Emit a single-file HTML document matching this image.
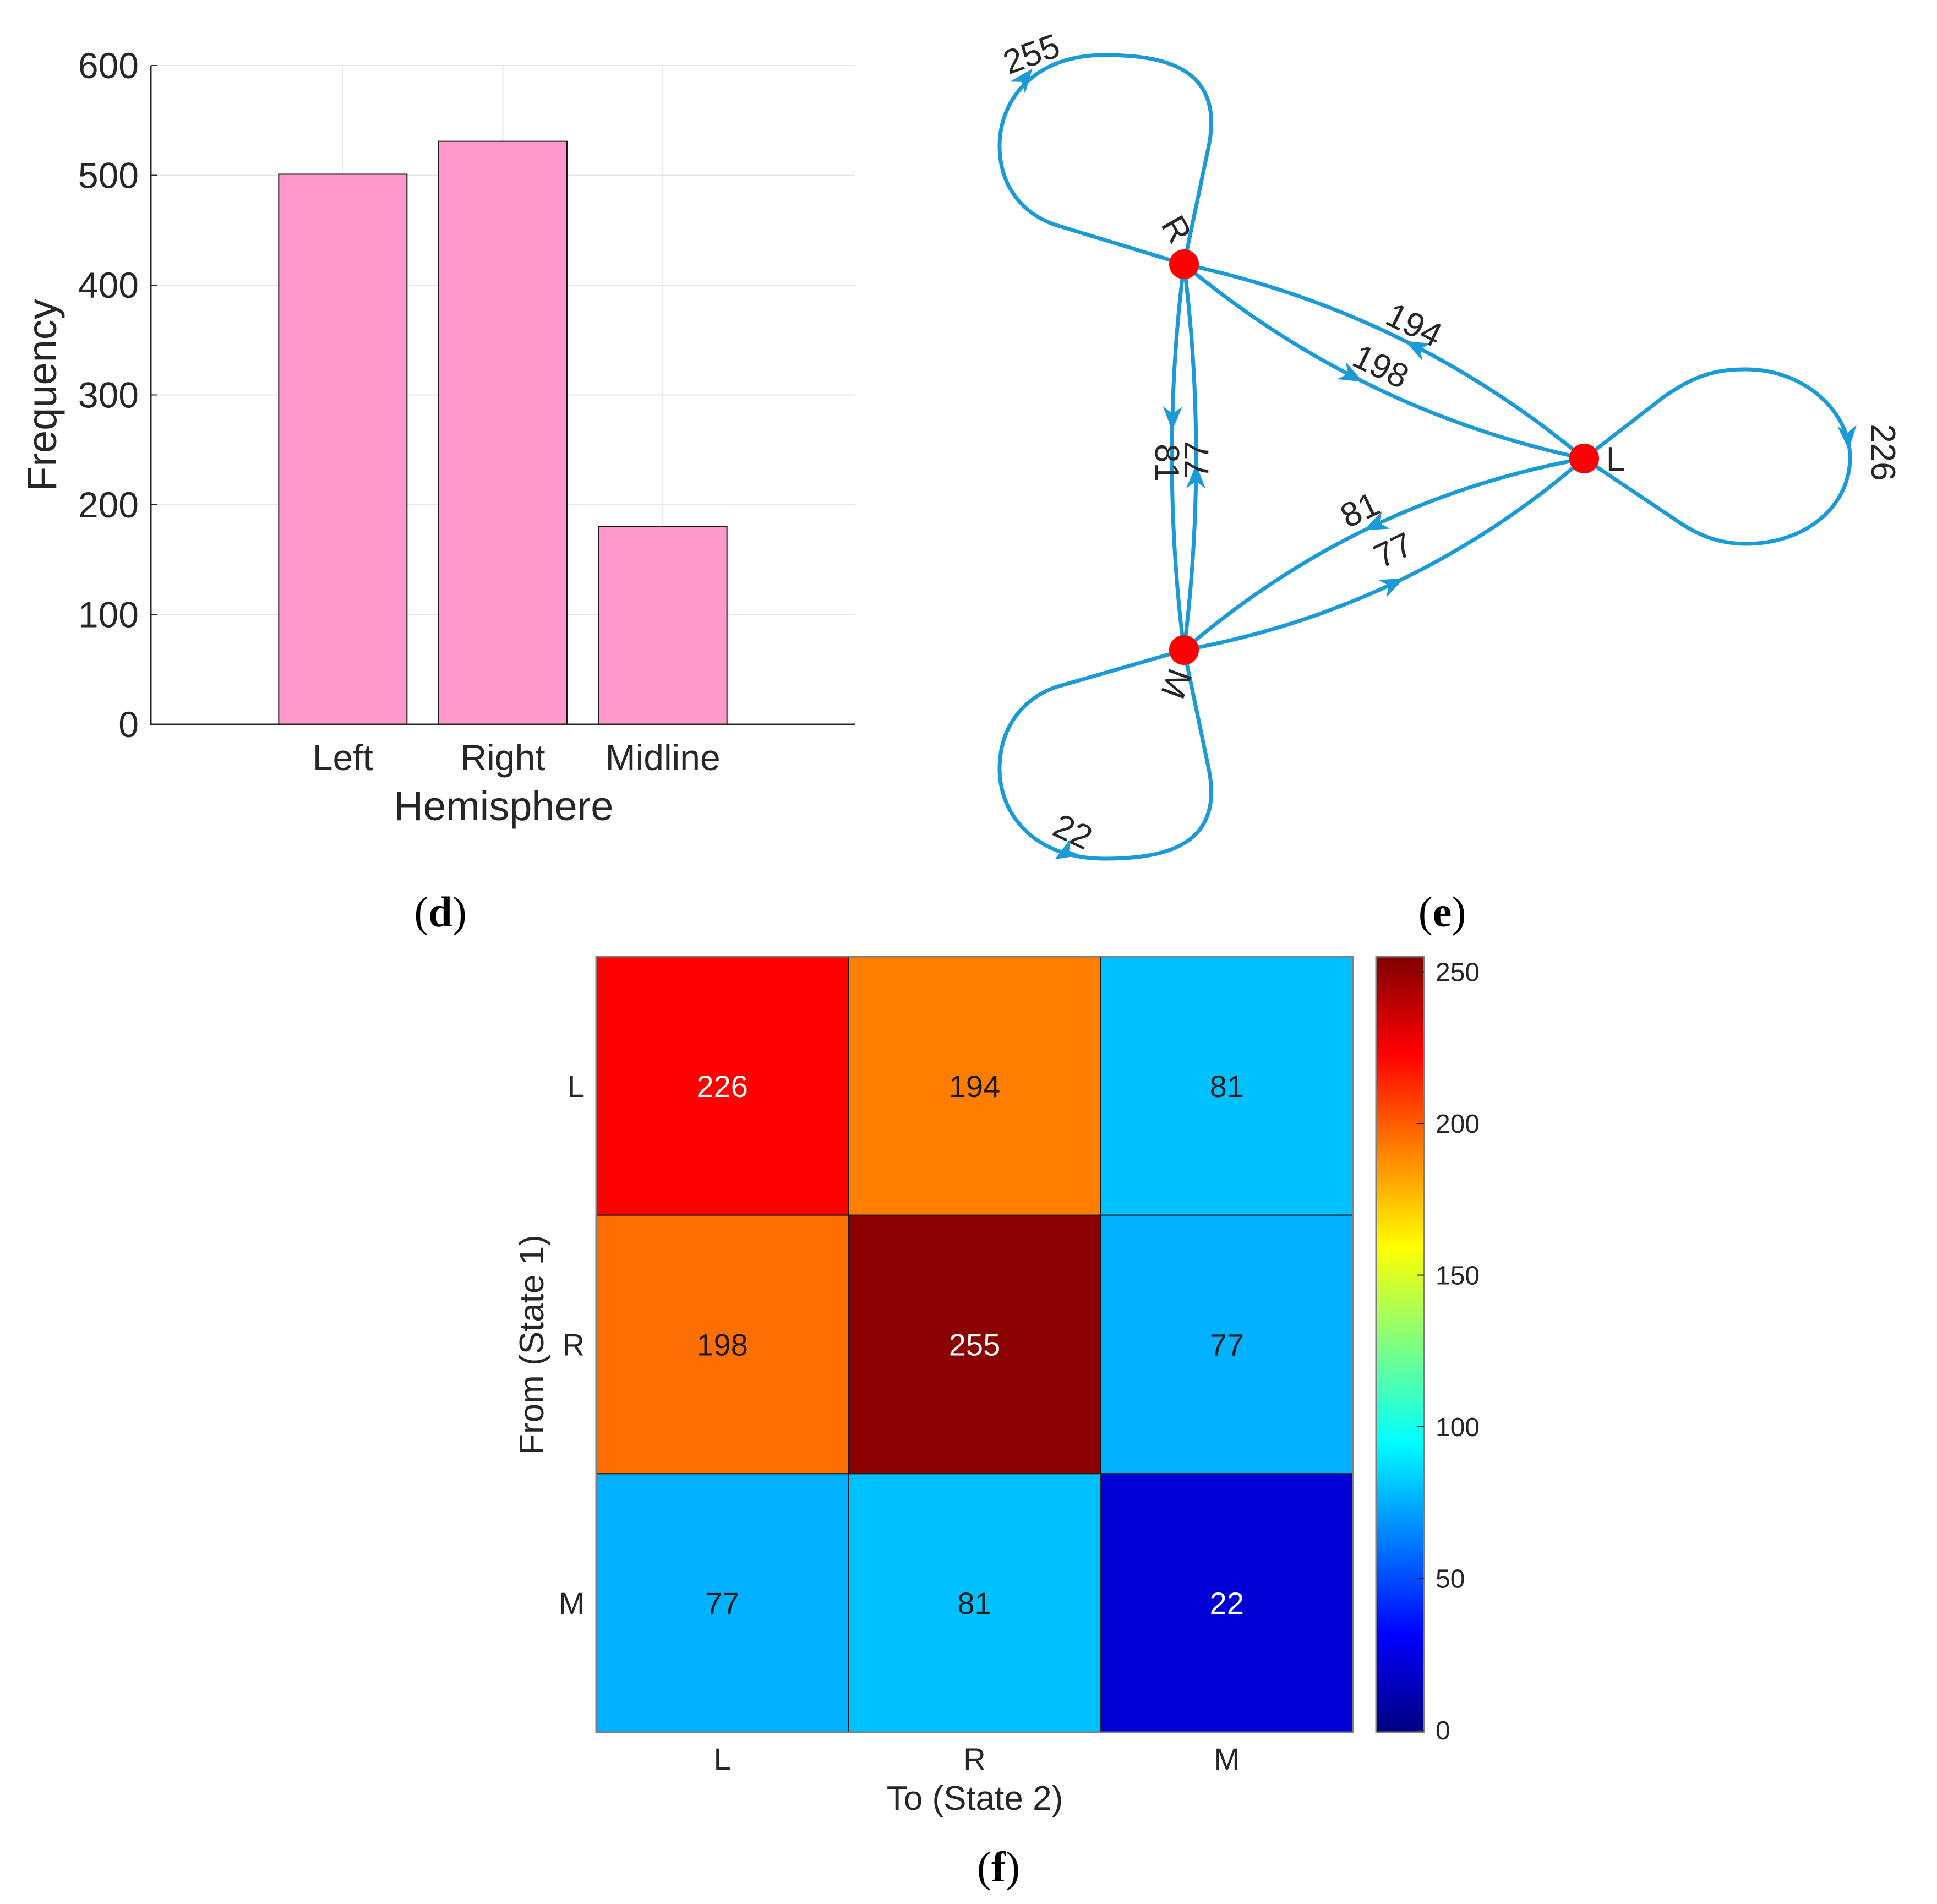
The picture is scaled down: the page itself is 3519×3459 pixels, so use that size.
<!DOCTYPE html>
<html><head><meta charset="utf-8">
<style>
html,body{margin:0;padding:0;background:#fff;}
svg{display:block;font-family:"Liberation Sans",Arial,sans-serif;}
</style></head>
<body>
<svg id="fig" width="3519" height="3459" viewBox="0 0 3519 3459" xmlns="http://www.w3.org/2000/svg">
<g id="barChart"></g>
<g id="graph"></g>
<g id="heat"></g>
<text x="800" y="1683" font-family="Liberation Serif,serif" font-size="78" text-anchor="middle">(<tspan font-weight="bold">d</tspan>)</text>
<text x="2620" y="1683" font-family="Liberation Serif,serif" font-size="78" text-anchor="middle">(<tspan font-weight="bold">e</tspan>)</text>
<text x="1814" y="3418" font-family="Liberation Serif,serif" font-size="78" text-anchor="middle">(<tspan font-weight="bold">f</tspan>)</text>
</svg>
<script>
const NS="http://www.w3.org/2000/svg";
// ---- bar chart data ----
const barCategories=["Left","Right","Midline"];
const barValues=[501,531,180];
const barYTicks=[0,100,200,300,400,500,600];
// ---- heatmap data ----
const heatRows=["L","R","M"];
const heatCols=["L","R","M"];
const heatValues=[[226,194,81],[198,255,77],[77,81,22]];
const cbarTicks=[0,50,100,150,200,250];
// ---- graph data ----
const graphNodes=["R","L","M"];
const graphEdges=[["R","R",255],["L","L",226],["M","M",22],["L","R",194],["R","L",198],["R","M",81],["M","R",77],["L","M",81],["M","L",77]];

function el(tag,attrs,parent,txt){const e=document.createElementNS(NS,tag);for(const k in attrs)e.setAttribute(k,attrs[k]);if(txt!==undefined)e.textContent=txt;parent.appendChild(e);return e;}

// ===== Bar chart =====
(function(){
const g=document.getElementById('barChart');
const X0=274,X1=1553,Y0=1316,Y1=119,ymax=600;
const sx=i=>X0+(i+1+0.2)*(X1-X0)/4.4;
const sy=v=>Y0-v*(Y0-Y1)/ymax;
barYTicks.forEach(t=>{
 const l=el('line',{x1:X0,x2:X1,y1:sy(t),y2:sy(t),stroke:'#e5e5e5','stroke-width':2},g);
 
 const tx=el('text',{x:252,y:sy(t)+23,'font-size':66,'text-anchor':'end',fill:'#262626'},g,String(t));
 
 el('line',{x1:X0,x2:X0+12,y1:sy(t),y2:sy(t),stroke:'#262626','stroke-width':2},g);
});
barCategories.forEach((c,i)=>{
 const l=el('line',{x1:sx(i),x2:sx(i),y1:Y1,y2:Y0,stroke:'#e5e5e5','stroke-width':2},g);
 
});
const bw=233;
barCategories.forEach((c,i)=>{
 const r=el('rect',{x:sx(i)-bw/2,y:sy(barValues[i]),width:bw,height:sy(0)-sy(barValues[i]),fill:'#ff99cc',stroke:'#1a1a1a','stroke-width':2},g);
 
 const t=el('text',{x:sx(i),y:1399,'font-size':66,'text-anchor':'middle',fill:'#262626'},g,c);
 
});
const ax=el('path',{d:`M${X0},${Y1} L${X0},${Y0} L${X1},${Y0}`,fill:'none',stroke:'#262626','stroke-width':3},g);

const xt=el('text',{x:915,y:1490,'font-size':74,'text-anchor':'middle',fill:'#262626'},g,'Hemisphere');

const yt=el('text',{x:0,y:0,'font-size':74,'text-anchor':'middle',fill:'#262626',transform:'translate(102,718) rotate(-90)'},g,'Frequency');

})();

// ===== Heatmap =====
function jet(v){
 const r=Math.min(Math.max(1.5-Math.abs(4*v-3),0),1);
 const gg=Math.min(Math.max(1.5-Math.abs(4*v-2),0),1);
 const b=Math.min(Math.max(1.5-Math.abs(4*v-1),0),1);
 return `rgb(${Math.round(r*255)},${Math.round(gg*255)},${Math.round(b*255)})`;
}
(function(){
const g=document.getElementById('heat');
const L=1083,T=1738,R=2458,B=3147,cmax=255,colorMax=258;
const cw=(R-L)/heatCols.length,ch=(B-T)/heatRows.length;
heatRows.forEach((rn,i)=>{
 heatCols.forEach((cn,j)=>{
  const v=heatValues[i][j];
  const r=el('rect',{x:L+j*cw,y:T+i*ch,width:cw,height:ch,fill:jet(v/colorMax),stroke:'#1a1a1a','stroke-width':2},g);
  
  const t=el('text',{x:L+(j+0.5)*cw,y:T+(i+0.5)*ch+20,'font-size':56,'text-anchor':'middle',fill:(v>220||v<40)?'#ffffff':'#1a1a1a'},g,String(v));
  
 });
 const t=el('text',{x:1062,y:T+(i+0.5)*ch+20,'font-size':56,'text-anchor':'end',fill:'#262626'},g,rn);
 
});
heatCols.forEach((cn,j)=>{
 const t=el('text',{x:L+(j+0.5)*cw,y:3215,'font-size':56,'text-anchor':'middle',fill:'#262626'},g,cn);
 
});
const bd=el('rect',{x:L,y:T,width:R-L,height:B-T,fill:'none',stroke:'#7f7f7f','stroke-width':3},g);

const xt=el('text',{x:1771,y:3288,'font-size':62,'text-anchor':'middle',fill:'#262626'},g,'To (State 2)');

const yt=el('text',{x:0,y:0,'font-size':62,'text-anchor':'middle',fill:'#262626',transform:'translate(987,2443) rotate(-90)'},g,'From (State 1)');

const CL=2500,CR=2587;
const defs=el('defs',{},g);
const lg=el('linearGradient',{id:'jetg',x1:0,y1:1,x2:0,y2:0},defs);
for(let k=0;k<=32;k++){el('stop',{offset:k/32,'stop-color':jet(k/32)},lg);}
const cb=el('rect',{x:CL,y:T,width:CR-CL,height:B-T,fill:'url(#jetg)',stroke:'#7f7f7f','stroke-width':3},g);

const cy=v=>B-4-v*(B-4-T)/cmax;
cbarTicks.forEach(t=>{
 el('line',{x1:CR-12,x2:CR,y1:cy(t),y2:cy(t),stroke:'#262626','stroke-width':2},g);
 const tx=el('text',{x:2608,y:cy(t)+17,'font-size':48,fill:'#262626'},g,String(t));
 
});
})();

// ===== Graph =====
(function(){
const g=document.getElementById('graph');
const pos={R:[2151,480],L:[2878,833],M:[2151,1181]};
const C='#1a9ad6';
function arrow(p,ang){
 const s=22;
 const pts=[[s,0],[-s,-s*0.8],[-s*0.4,0],[-s,s*0.8]].map(([x,y])=>[p[0]+x*Math.cos(ang)-y*Math.sin(ang),p[1]+x*Math.sin(ang)+y*Math.cos(ang)]);
 const a=el('polygon',{points:pts.map(q=>q.join(',')).join(' '),fill:C},g);
 
}
function label(txt,x,y,rot){
 const t=el('text',{x:0,y:0,'font-size':62,'text-anchor':'middle',fill:'#262626',transform:`translate(${x},${y}) rotate(${rot})`},g,txt);
 
}
const loops={
 R:{d:p=>`M${p[0]},${p[1]} L2196,265 C2225,120 2110,100 2006,100 C1880,100 1816,180 1816,265 C1816,340 1860,390 1919,409 L${p[0]},${p[1]}`,ap:[1862,142],aa:-0.9,lp:[1881,118],lr:-20},
 L:{d:p=>`M${p[0]},${p[1]} L3020,723 C3080,680 3120,671 3172,671 C3280,671 3361,750 3361,831 C3361,920 3280,988 3172,988 C3120,988 3080,970 3042,943 L${p[0]},${p[1]}`,ap:[3357,795],aa:1.5,lp:[3400,822],lr:90},
 M:{d:p=>`M${p[0]},${p[1]} L2196,1397 C2225,1540 2110,1560 2006,1560 C1880,1560 1816,1480 1816,1397 C1816,1320 1860,1268 1919,1248 L${p[0]},${p[1]}`,ap:[1935,1550],aa:2.6,lp:[1940,1530],lr:25}
};
const bulge={"L-R":-100,"R-L":-100,"R-M":-44,"M-R":-44,"L-M":-110,"M-L":-110};
const labelOff={"L-R":[60,-5],"R-L":[-30,-54],"R-M":[-30,-45],"M-R":[22,20],"L-M":[25,-50],"M-L":[-34,-40]};
const arrowT={"L-R":0.45,"R-L":0.45,"R-M":0.4,"M-R":0.45,"L-M":0.49,"M-L":0.49};
function qpt(P,c,Q,t){return [(1-t)*(1-t)*P[0]+2*(1-t)*t*c[0]+t*t*Q[0],(1-t)*(1-t)*P[1]+2*(1-t)*t*c[1]+t*t*Q[1]];}
graphEdges.forEach(([a,b,w])=>{
 if(a===b){
  const lp=loops[a];
  const p=el('path',{d:lp.d(pos[a]),fill:'none',stroke:C,'stroke-width':7},g);
  
  arrow(lp.ap,lp.aa);label(String(w),lp.lp[0],lp.lp[1],lp.lr);
  return;
 }
 const P=pos[a],Q=pos[b],key=a+'-'+b;
 const dx=Q[0]-P[0],dy=Q[1]-P[1],len=Math.hypot(dx,dy);
 const nx=dy/len,ny=-dx/len;
 const k=bulge[key];
 const c=[(P[0]+Q[0])/2+nx*k,(P[1]+Q[1])/2+ny*k];
 const p=el('path',{d:`M${P[0]},${P[1]} Q${c[0]},${c[1]} ${Q[0]},${Q[1]}`,fill:'none',stroke:C,'stroke-width':7},g);
 
 const t=arrowT[key];
 const ap=qpt(P,c,Q,t);
 const tg=[2*(1-t)*(c[0]-P[0])+2*t*(Q[0]-c[0]),2*(1-t)*(c[1]-P[1])+2*t*(Q[1]-c[1])];
 arrow(ap,Math.atan2(tg[1],tg[0]));
 const lp=qpt(P,c,Q,0.55);
 let rot=Math.atan2(dy,dx)*180/Math.PI;
 if(rot>90)rot-=180; if(rot<-90)rot+=180;
 const o=labelOff[key];
 label(String(w),lp[0]+o[0],lp[1]+o[1]+20,rot);
});
graphNodes.forEach(n=>{
 const c=el('circle',{cx:pos[n][0],cy:pos[n][1],r:27,fill:'#ff0000'},g);
 
});
const nl={R:[2119,427,60],L:[2935,855,0],M:[2117,1235,110]};
graphNodes.forEach(n=>{
 const t=el('text',{x:0,y:0,'font-size':62,'text-anchor':'middle',fill:'#262626',transform:`translate(${nl[n][0]},${nl[n][1]}) rotate(${nl[n][2]})`},g,n);
 
});
})();
</script>
</body></html>
